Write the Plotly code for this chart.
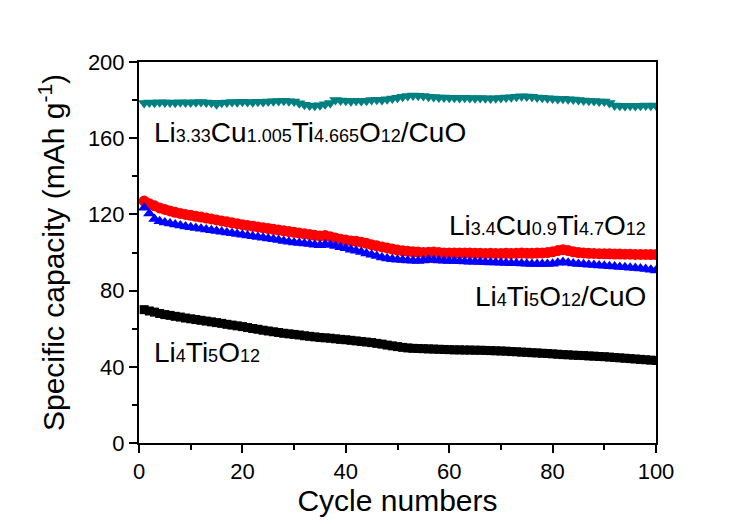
import plotly.graph_objects as go

cycles = list(range(1, 101))

lto = [70.0, 69.3, 68.7, 68.0, 67.4, 67.0, 66.5, 66.1, 65.6, 65.2,
       64.8, 64.4, 64.0, 63.6, 63.2, 62.8, 62.3, 61.9, 61.5, 61.1,
       60.6, 60.1, 59.7, 59.2, 58.8, 58.4, 58.0, 57.6, 57.3, 57.0,
       56.7, 56.3, 56.0, 55.7, 55.4, 55.2, 55.0, 54.7, 54.4, 54.2,
       53.9, 53.6, 53.3, 53.0, 52.7, 52.3, 51.9, 51.4, 51.0, 50.6,
       50.2, 49.9, 49.7, 49.6, 49.5, 49.4, 49.3, 49.2, 49.1, 49.0,
       48.9, 48.9, 48.8, 48.8, 48.7, 48.7, 48.6, 48.5, 48.4, 48.3,
       48.2, 48.0, 47.9, 47.7, 47.6, 47.4, 47.3, 47.1, 47.0, 46.8,
       46.6, 46.4, 46.3, 46.1, 46.0, 45.9, 45.7, 45.6, 45.4, 45.3,
       45.1, 44.9, 44.7, 44.5, 44.3, 44.1, 43.9, 43.7, 43.5, 43.3]

lcto_red = [127.0, 125.6, 124.5, 123.4, 122.6, 121.8, 121.1, 120.5, 120.0, 119.5,
            119.0, 118.6, 118.1, 117.6, 117.1, 116.6, 116.1, 115.6, 115.1, 114.6,
            114.2, 113.8, 113.4, 113.0, 112.6, 112.2, 111.8, 111.4, 111.0, 110.6,
            110.2, 109.8, 109.4, 109.0, 108.7, 108.9, 108.3, 107.6, 107.0, 106.6,
            106.1, 105.9, 105.4, 104.8, 104.1, 103.5, 102.9, 102.4, 101.8, 101.3,
            100.9, 100.6, 100.4, 100.2, 100.0, 100.1, 100.3, 100.0, 99.8, 99.8,
            99.7, 99.7, 99.8, 99.7, 99.6, 99.6, 99.5, 99.6, 99.5, 99.5,
            99.6, 99.5, 99.6, 99.7, 99.6, 99.6, 99.7, 99.8, 100.0, 100.4,
            101.0, 101.5, 101.0, 100.4, 100.0, 99.8, 99.6, 99.5, 99.4, 99.3,
            99.3, 99.2, 99.2, 99.1, 99.1, 99.0, 99.0, 99.0, 98.9, 98.9]

lto_cuo = [123.5, 120.5, 117.6, 116.4, 115.8, 115.2, 114.7, 114.2, 113.7, 113.3,
           112.9, 112.5, 112.1, 111.7, 111.3, 110.9, 110.5, 110.1, 109.7, 109.3,
           108.9, 108.5, 108.1, 107.7, 107.3, 106.9, 106.5, 106.1, 105.7, 105.3,
           105.0, 104.7, 104.4, 104.1, 103.8, 104.3, 104.0, 103.4, 102.8, 102.2,
           101.5, 100.9, 100.2, 99.5, 98.8, 98.1, 97.4, 96.9, 96.5, 96.2,
           96.0, 95.8, 95.7, 95.6, 95.8, 96.2, 96.0, 95.8, 95.7, 95.6,
           95.5, 95.4, 95.3, 95.2, 95.1, 95.0, 94.9, 94.8, 94.7, 94.6,
           94.5, 94.4, 94.3, 94.2, 94.1, 94.0, 94.0, 93.9, 93.9, 94.1,
           94.6, 95.0, 94.6, 94.2, 94.0, 93.8, 93.6, 93.4, 93.2, 93.0,
           92.8, 92.6, 92.4, 92.2, 92.0, 91.8, 91.6, 91.3, 91.0, 90.6]

lcto_cuo = [178.5, 178.8, 178.6, 178.9, 178.7, 178.8, 178.6, 178.9, 178.7, 178.8,
            178.9, 179.0, 178.8, 178.6, 177.8, 178.6, 178.8, 179.0, 178.9, 179.1,
            179.0, 178.9, 179.1, 179.0, 179.2, 179.4, 179.5, 179.6, 179.4, 179.2,
            178.4, 177.6, 177.2, 177.0, 177.3, 177.8, 178.5, 180.0, 179.8, 179.6,
            179.4, 179.6, 179.5, 179.7, 180.0, 180.2, 180.1, 180.5, 180.8, 181.2,
            181.8, 182.2, 182.4, 182.3, 182.1, 181.8, 181.6, 181.4, 181.3, 181.2,
            181.2, 181.1, 181.2, 181.1, 181.0, 181.1, 181.0, 180.9, 181.0, 181.1,
            181.3, 181.5, 181.8, 182.0, 181.9, 181.7, 181.4, 181.2, 181.0, 180.8,
            180.6, 180.7, 180.5, 180.3, 180.0, 179.8, 179.7, 179.5, 179.3, 179.2,
            178.5, 177.2, 177.0, 176.9, 177.0, 176.9, 177.0, 177.1, 177.0, 177.1]

x_ticks = [0, 20, 40, 60, 80, 100]
y_ticks = [0, 40, 80, 120, 160, 200]

FONT = "Arial, Liberation Sans, sans-serif"
SUB = '<span style="font-size:18px">{}</span>'


def formula(parts):
    out = ""
    for i, p in enumerate(parts):
        out += SUB.format(p) if i % 2 == 1 else p
    return out


label_lcto_cuo = formula(["Li", "3.33", "Cu", "1.005", "Ti", "4.665", "O", "12", "/CuO"])
label_lcto = formula(["Li", "3.4", "Cu", "0.9", "Ti", "4.7", "O", "12"])
label_lto_cuo = formula(["Li", "4", "Ti", "5", "O", "12", "/CuO"])
label_lto = formula(["Li", "4", "Ti", "5", "O", "12"])

fig = go.Figure()
fig.add_trace(go.Scatter(x=cycles, y=lto, mode="markers",
                         marker=dict(symbol="square", size=9, color="#000000"),
                         name="Li4Ti5O12"))
fig.add_trace(go.Scatter(x=cycles, y=lcto_red, mode="markers",
                         marker=dict(symbol="circle", size=11, color="#ff0000"),
                         name="Li3.4Cu0.9Ti4.7O12"))
fig.add_trace(go.Scatter(x=cycles, y=lto_cuo, mode="markers",
                         marker=dict(symbol="triangle-up", size=11, color="#0000ff"),
                         name="Li4Ti5O12/CuO"))
fig.add_trace(go.Scatter(x=cycles, y=lcto_cuo, mode="markers",
                         marker=dict(symbol="triangle-down", size=11, color="#008080"),
                         name="Li3.33Cu1.005Ti4.665O12/CuO"))

ann_font = dict(family=FONT, size=28, color="#000000")
annotations = [
    dict(text=label_lcto_cuo, x=0.025, y=0.815, xanchor="left", yanchor="middle"),
    dict(text=label_lcto, x=0.985, y=0.57, xanchor="right", yanchor="middle"),
    dict(text=label_lto_cuo, x=0.985, y=0.385, xanchor="right", yanchor="middle"),
    dict(text=label_lto, x=0.025, y=0.238, xanchor="left", yanchor="middle"),
]
for a in annotations:
    a.update(xref="paper", yref="paper", showarrow=False, font=ann_font)

axis_common = dict(
    showline=True, linecolor="#000000", linewidth=2, mirror=True,
    ticks="outside", ticklen=8, tickwidth=2, tickcolor="#000000",
    showgrid=False, zeroline=False,
    tickfont=dict(family=FONT, size=22, color="#000000"),
)

fig.update_layout(
    width=745, height=524,
    margin=dict(l=139, r=89, t=62, b=81),
    paper_bgcolor="#ffffff", plot_bgcolor="#ffffff",
    showlegend=False,
    annotations=annotations,
    xaxis=dict(range=[0, 100], tickvals=x_ticks,
               minor=dict(dtick=10, ticklen=5, tickwidth=2, tickcolor="#000000", ticks="outside"),
               title=dict(text="Cycle numbers", font=dict(family=FONT, size=30, color="#000000"), standoff=4),
               **axis_common),
    yaxis=dict(range=[0, 200], tickvals=y_ticks,
               minor=dict(dtick=20, ticklen=5, tickwidth=2, tickcolor="#000000", ticks="outside"),
               title=dict(text="Specific capacity (mAh g<sup>-1</sup>)", font=dict(family=FONT, size=30, color="#000000"), standoff=14),
               **axis_common),
)

fig.write_html("out.html", config={"displayModeBar": False},
               post_script="document.body.style.margin='0';")
